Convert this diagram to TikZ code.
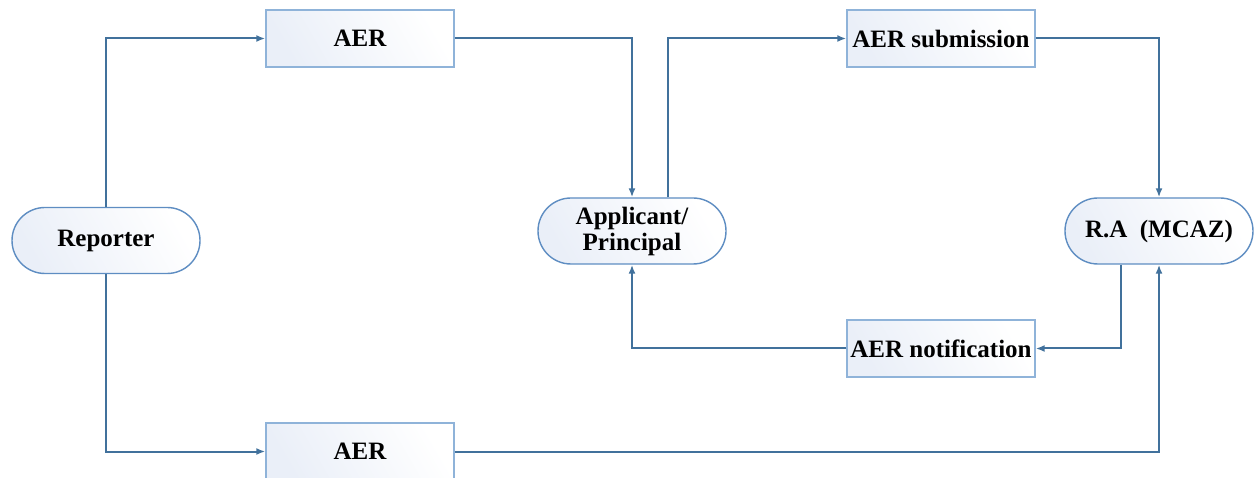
\documentclass[tikz,border=0pt]{standalone}
\usepackage{fontspec}
\setmainfont{Liberation Serif}
\usetikzlibrary{arrows.meta,shapes.misc}
\definecolor{linec}{HTML}{41719C}
\definecolor{boxc}{HTML}{8FB3D9}
\definecolor{stadc}{HTML}{5E8DC2}
\definecolor{fillc}{HTML}{EAEFF8}
\begin{document}
\begin{tikzpicture}[x=1pt,y=-1pt,
  lbl/.style={font=\fontsize{25}{28}\selectfont\bfseries, text=black, align=center},
  grad/.style={shade, shading=axis, left color=fillc, right color=white, shading angle=120},
  boxn/.style={lbl, grad, draw=boxc, line width=1.4pt, minimum width=188pt, minimum height=57pt, inner sep=0pt},
  stad/.style={lbl, grad, draw=stadc, line width=1.4pt, rounded rectangle, minimum width=188pt, minimum height=66pt, inner sep=0pt},
  conn/.style={draw=linec, line width=2pt, -{Latex[length=9pt,width=7pt]}}]
\useasboundingbox (0,0) rectangle (1259,478);
\node[stad] (rep) at (106,240.5) {Reporter};
\node[boxn] (aer1) at (360,38.5) {AER};
\node[stad] (app) at (632,231) {Applicant/\\[-2pt]Principal};
\node[boxn] (sub) at (941,38.5) {AER submission};
\node[stad] (ra) at (1159,231) {R.A\ \ (MCAZ)};
\node[boxn] (notif) at (941,348.5) {AER notification};
\node[boxn] (aer2) at (360,451.5) {AER};
\draw[conn] (rep.north) |- (aer1.west);
\draw[conn] (aer1.east) -| (app.north);
\draw[conn] ([xshift=36pt]app.north) |- (sub.west);
\draw[conn] (sub.east) -| (ra.north);
\draw[conn] ([xshift=-38pt]ra.south) |- (notif.east);
\draw[conn] (notif.west) -| (app.south);
\draw[conn] (rep.south) |- (aer2.west);
\draw[conn] (aer2.east) -| (ra.south);
\end{tikzpicture}
\end{document}
